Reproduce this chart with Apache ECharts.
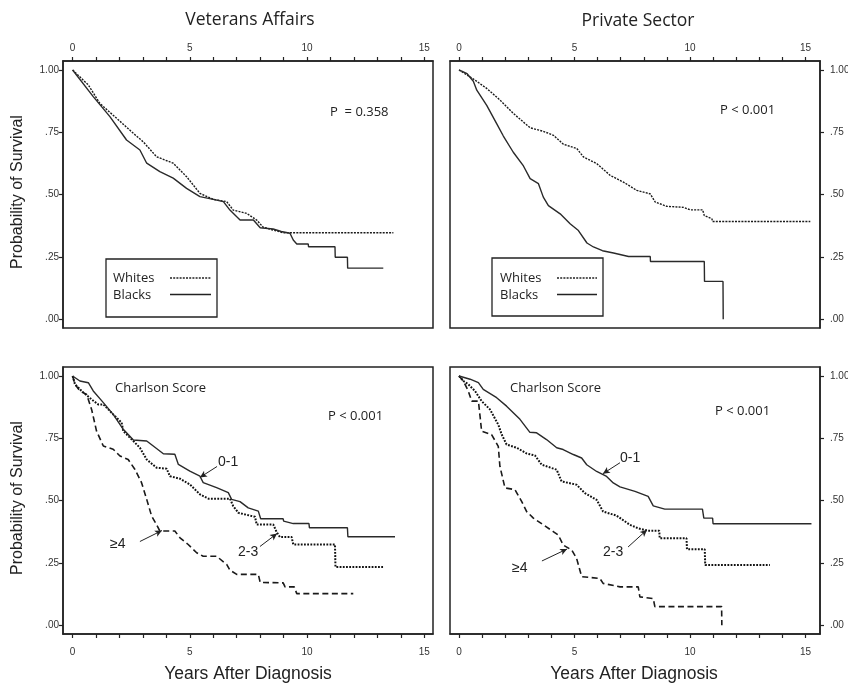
<!DOCTYPE html>
<html><head><meta charset="utf-8">
<script src="https://cdn.jsdelivr.net/npm/echarts@6/dist/echarts.min.js"></script>
<style>html,body{margin:0;padding:0;background:#fff;overflow:hidden}#c{width:848px;height:683px}</style>
</head><body><div id="c"></div>
<script>
// ---- tick values ----
const xTicks = [0,1,2,3,4,5,6,7,8,9,10,11,12,13,14,15];
const xLabels = [0,5,10,15];
const yTicks = [0,0.25,0.5,0.75,1];

// ---- Veterans Affairs: race ----
const vaWhites = [[0,1],[0.67,0.94],[1.16,0.866],[1.88,0.806],[2.59,0.746],[3.01,0.712],[3.58,0.652],[4.29,0.626],[4.86,0.572],[5.43,0.505],[6.0,0.481],[6.57,0.472],[6.85,0.438],[7.42,0.425],[7.85,0.398],[8.13,0.369],[8.98,0.347],[13.68,0.347]];
const vaBlacks = [[0,1],[0.88,0.893],[1.59,0.813],[2.30,0.719],[2.87,0.679],[3.16,0.626],[3.72,0.592],[4.29,0.566],[4.86,0.525],[5.43,0.492],[6.0,0.481],[6.43,0.472],[6.71,0.438],[7.14,0.398],[7.71,0.398],[8.0,0.367],[8.55,0.362],[8.9,0.352],[9.27,0.345],[9.41,0.318],[9.56,0.302],[10.05,0.302],[10.06,0.291],[11.19,0.291],[11.2,0.249],[11.72,0.249],[11.73,0.205],[13.25,0.205]];

// ---- Private Sector: race ----
const psWhites = [[0,1],[0.62,0.964],[1.20,0.926],[1.78,0.879],[2.35,0.826],[3.08,0.768],[3.65,0.754],[4.09,0.738],[4.52,0.702],[5.10,0.685],[5.39,0.651],[5.97,0.624],[6.55,0.577],[7.12,0.550],[7.70,0.517],[8.28,0.503],[8.50,0.470],[9.00,0.453],[9.72,0.449],[10.01,0.439],[10.55,0.439],[10.62,0.416],[10.95,0.403],[10.98,0.392],[15.21,0.392]];
const psBlacks = [[0,1],[0.35,0.985],[0.62,0.955],[0.77,0.919],[1.20,0.858],[1.63,0.785],[1.92,0.735],[2.35,0.67],[2.79,0.615],[3.08,0.564],[3.44,0.544],[3.65,0.49],[3.87,0.456],[4.38,0.423],[4.81,0.383],[5.17,0.356],[5.54,0.306],[5.82,0.29],[6.21,0.275],[6.69,0.266],[7.34,0.252],[8.28,0.252],[8.29,0.232],[10.62,0.232],[10.63,0.152],[11.43,0.152],[11.44,0]];

// ---- Veterans Affairs: Charlson score ----
const vaC01 = [[0,1],[0.31,0.98],[0.67,0.973],[0.88,0.94],[1.31,0.893],[1.73,0.846],[2.16,0.786],[2.59,0.743],[3.16,0.739],[3.44,0.719],[3.87,0.688],[4.36,0.686],[4.51,0.645],[5.0,0.618],[5.43,0.598],[5.57,0.572],[6.14,0.552],[6.64,0.532],[6.78,0.505],[7.14,0.496],[7.49,0.471],[7.92,0.458],[8.02,0.427],[8.98,0.427],[9.0,0.418],[9.41,0.408],[10.08,0.408],[10.1,0.391],[11.72,0.391],[11.74,0.355],[13.75,0.355]];
const vaC23 = [[0,1],[0.1,0.967],[0.38,0.94],[0.81,0.906],[1.09,0.886],[1.31,0.886],[1.73,0.846],[2.09,0.813],[2.16,0.779],[2.59,0.739],[2.87,0.712],[3.16,0.665],[3.58,0.632],[4.01,0.628],[4.15,0.598],[4.58,0.588],[5.0,0.565],[5.43,0.525],[5.79,0.508],[6.71,0.508],[6.85,0.478],[7.07,0.451],[7.78,0.435],[7.85,0.404],[8.56,0.404],[8.70,0.374],[8.84,0.354],[9.34,0.354],[9.41,0.324],[11.19,0.324],[11.21,0.234],[13.25,0.234]];
const vaC4 = [[0,1],[0.1,0.967],[0.31,0.94],[0.6,0.926],[0.81,0.866],[1.02,0.779],[1.31,0.719],[1.73,0.706],[2.02,0.679],[2.37,0.665],[2.66,0.625],[2.94,0.572],[3.16,0.505],[3.37,0.438],[3.58,0.404],[3.72,0.378],[4.36,0.378],[4.58,0.351],[4.93,0.324],[5.29,0.291],[5.57,0.277],[6.14,0.277],[6.57,0.244],[6.71,0.221],[7.0,0.204],[7.92,0.204],[8.0,0.172],[8.98,0.170],[9.06,0.154],[9.45,0.154],[9.56,0.127],[11.97,0.127]];

// ---- Private Sector: Charlson score ----
const psC01 = [[0,1],[0.48,0.987],[0.84,0.973],[1.05,0.946],[1.63,0.913],[2.06,0.879],[2.64,0.826],[3.07,0.774],[3.36,0.772],[3.79,0.745],[4.23,0.712],[4.51,0.705],[4.95,0.685],[5.31,0.671],[5.53,0.644],[5.96,0.617],[6.39,0.597],[6.68,0.571],[6.97,0.555],[7.62,0.537],[8.19,0.517],[8.41,0.479],[8.91,0.466],[10.54,0.466],[10.6,0.43],[10.98,0.43],[11.0,0.407],[15.26,0.407]];
const psC23 = [[0,1],[0.19,0.98],[0.40,0.967],[0.69,0.94],[0.98,0.899],[1.34,0.866],[1.70,0.805],[1.85,0.765],[2.06,0.725],[2.50,0.712],[2.93,0.689],[3.29,0.681],[3.58,0.644],[4.23,0.624],[4.44,0.577],[5.09,0.564],[5.45,0.530],[5.96,0.503],[6.24,0.456],[6.82,0.440],[7.40,0.403],[7.76,0.389],[8.19,0.379],[8.67,0.379],[8.69,0.349],[9.85,0.349],[9.87,0.305],[10.64,0.305],[10.66,0.242],[13.46,0.242]];
const psC4 = [[0,1],[0.19,0.98],[0.40,0.94],[0.55,0.899],[0.84,0.899],[0.91,0.839],[0.98,0.778],[1.41,0.765],[1.70,0.718],[1.77,0.638],[1.99,0.551],[2.42,0.544],[2.71,0.497],[2.93,0.456],[3.22,0.430],[3.65,0.403],[4.08,0.376],[4.30,0.362],[4.51,0.322],[4.88,0.302],[5.09,0.269],[5.31,0.195],[6.10,0.188],[6.24,0.168],[6.97,0.154],[7.76,0.154],[7.83,0.114],[8.41,0.107],[8.48,0.075],[11.37,0.075],[11.38,0]];

const INK = '#222';
const TICKFONT = 'Liberation Sans';
const TXTFONT = '"Open Sans", "DejaVu Sans", sans-serif';
const ARIAL = '"Liberation Sans", Arial, sans-serif';

function yFmt(v){ return v === 1 ? '1.00' : '.' + String(Math.round(v*100)).padStart(2,'0'); }

function xAx(gi, pos, min, max){
  return { type:'value', gridIndex:gi, position:pos, min:min, max:max,
    axisLine:{show:true, onZero:false, lineStyle:{color:INK, width:1.5}},
    axisTick:{show:true, customValues:xTicks, length:4, lineStyle:{color:INK, width:1.2}},
    axisLabel:{customValues:xLabels, fontSize:10, color:'#333', fontFamily:TICKFONT, margin:(pos==='top'?8:13)},
    splitLine:{show:false} };
}
function yAx(gi, pos){
  return { type:'value', gridIndex:gi, position:pos, min:-0.035, max:1.036,
    axisLine:{show:true, onZero:false, lineStyle:{color:INK, width:1.5}},
    axisTick:{show:true, customValues:yTicks, length:4, lineStyle:{color:INK, width:1.2}},
    axisLabel:{customValues:yTicks, formatter:yFmt, fontSize:10, color:'#333', fontFamily:TICKFONT, margin:(pos==='left'?4:10)},
    splitLine:{show:false} };
}
const gridBase = {show:true, borderColor:INK, borderWidth:1.5, width:370, height:267, containLabel:false, outerBoundsMode:'none'};

const solid = {type:'solid', width:1.4, color:'#2a2a2a'};
const whiteDash = {type:[2,1.2], width:1.4, color:'#1a1a1a'};
const dotStyle = {type:[1.8,1.4], width:2, color:'#111'};
const dashStyle = {type:[6,3.5], width:1.6, color:'#1a1a1a'};

function ser(name, data, xi, style, extra){
  return Object.assign({ name:name, type:'line', xAxisIndex:xi, yAxisIndex:xi, data:data,
    showSymbol:false, symbol:'none', lineStyle:style, silent:true, z:3 }, extra||{});
}
function arrows(list){
  return { markLine:{ silent:true, symbol:['none','arrow'], symbolSize:[5,7], label:{show:false},
    lineStyle:{type:'solid', color:INK, width:1}, emphasis:{disabled:true},
    data:list.map(a => [{coord:a[0]},{coord:a[1]}]) } };
}

const t = (text, x, y, font, align, extra) => Object.assign({type:'text', x:x, y:y, silent:true,
  style:{text:text, font:font, fill:INK, textAlign:align||'left', textVerticalAlign:'middle'}}, extra||{});

const graphics = [
  t('Veterans Affairs', 250, 20, '17.5px ' + TXTFONT, 'center'),
  t('Private Sector', 638, 21, '17.5px ' + TXTFONT, 'center'),
  t('Years After Diagnosis', 248, 674, '17.5px ' + ARIAL, 'center'),
  t('Years After Diagnosis', 634, 674, '17.5px ' + ARIAL, 'center'),
  t('Probability of Survival', 18, 192, '16px ' + ARIAL, 'center', {rotation:Math.PI/2}),
  t('Probability of Survival', 18, 498, '16px ' + ARIAL, 'center', {rotation:Math.PI/2}),
  t('P  = 0.358', 330, 112, '13px ' + TXTFONT, 'left'),
  t('P < 0.001', 720, 110, '13px ' + TXTFONT, 'left'),
  t('P < 0.001', 328, 416, '13px ' + TXTFONT, 'left'),
  t('P < 0.001', 715, 411, '13px ' + TXTFONT, 'left'),
  t('Charlson Score', 115, 388, '13px ' + TXTFONT, 'left'),
  t('Charlson Score', 510, 388, '13px ' + TXTFONT, 'left'),
  t('0-1', 218, 462, '14px ' + ARIAL, 'left'),
  t('2-3', 238, 552, '14px ' + ARIAL, 'left'),
  t('≥4', 110, 544, '14px ' + ARIAL, 'left'),
  t('0-1', 620, 458, '14px ' + ARIAL, 'left'),
  t('2-3', 603, 552, '14px ' + ARIAL, 'left'),
  t('≥4', 512, 568, '14px ' + ARIAL, 'left'),
  // legend boxes
  {type:'rect', silent:true, shape:{x:106, y:259, width:111, height:58}, style:{fill:'none', stroke:INK, lineWidth:1.3}},
  t('Whites', 113, 278, '13px ' + TXTFONT, 'left'),
  t('Blacks', 113, 295, '13px ' + TXTFONT, 'left'),
  {type:'line', silent:true, shape:{x1:170, y1:278, x2:211, y2:278}, style:{stroke:INK, lineWidth:1.3, lineDash:[2,1.2]}},
  {type:'line', silent:true, shape:{x1:170, y1:294.5, x2:211, y2:294.5}, style:{stroke:INK, lineWidth:1.5}},
  {type:'rect', silent:true, shape:{x:492, y:258, width:111, height:58}, style:{fill:'none', stroke:INK, lineWidth:1.3}},
  t('Whites', 500, 278, '13px ' + TXTFONT, 'left'),
  t('Blacks', 500, 295, '13px ' + TXTFONT, 'left'),
  {type:'line', silent:true, shape:{x1:557, y1:278, x2:597, y2:278}, style:{stroke:INK, lineWidth:1.3, lineDash:[2,1.2]}},
  {type:'line', silent:true, shape:{x1:557, y1:294.5, x2:597, y2:294.5}, style:{stroke:INK, lineWidth:1.5}}
];

const option = {
  animation:false,
  backgroundColor:'#fff',
  grid:[
    Object.assign({left:63, top:61}, gridBase),
    Object.assign({left:450, top:61}, gridBase),
    Object.assign({left:63, top:367}, gridBase),
    Object.assign({left:450, top:367}, gridBase)
  ],
  xAxis:[ xAx(0,'top',-0.41,15.37), xAx(1,'top',-0.39,15.63), xAx(2,'bottom',-0.41,15.37), xAx(3,'bottom',-0.39,15.63) ],
  yAxis:[ yAx(0,'left'), yAx(1,'right'), yAx(2,'left'), yAx(3,'right') ],
  series:[
    ser('Whites', vaWhites, 0, whiteDash),
    ser('Blacks', vaBlacks, 0, solid),
    ser('Whites', psWhites, 1, whiteDash),
    ser('Blacks', psBlacks, 1, solid),
    ser('≥4', vaC4, 2, dashStyle),
    ser('2-3', vaC23, 2, dotStyle),
    ser('0-1', vaC01, 2, solid, arrows([[[6.16,0.637],[5.43,0.593]],[[7.99,0.316],[8.72,0.368]],[[2.87,0.336],[3.81,0.380]]])),
    ser('≥4', psC4, 3, dashStyle),
    ser('2-3', psC23, 3, dotStyle),
    ser('0-1', psC01, 3, solid, arrows([[[6.97,0.652],[6.23,0.608]],[[7.32,0.314],[8.14,0.383]],[[3.59,0.258],[4.68,0.306]]]))
  ],
  graphic:graphics
};
const chart = echarts.init(document.getElementById('c'), null, {renderer:'canvas'});
chart.setOption(option);
</script></body></html>
